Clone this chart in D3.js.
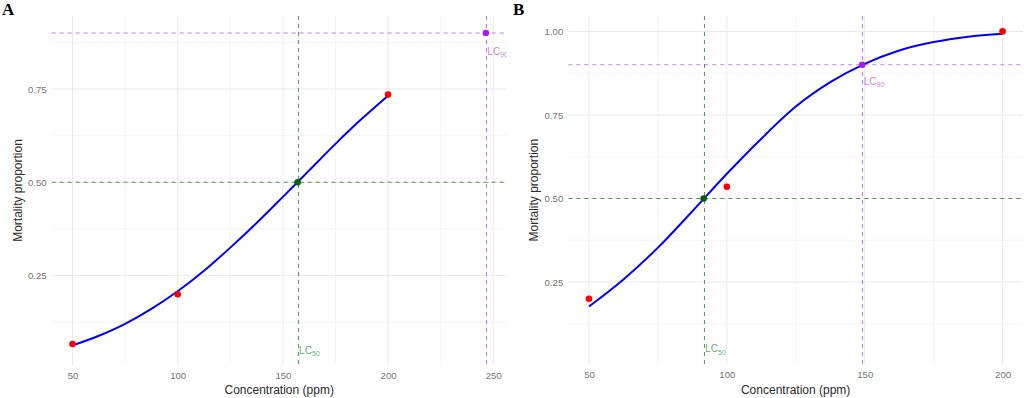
<!DOCTYPE html>
<html>
<head>
<meta charset="utf-8">
<script src="https://cdn.jsdelivr.net/npm/d3@7"></script>
<style>
  body { margin: 0; background: #fff; }
  svg { display: block; font-family: "Liberation Sans", Arial, sans-serif; }
</style>
</head>
<body>
<svg id="chart" width="1024" height="398"></svg>
<script>
// observed mortality (red points)
var obsA_conc = [50, 100, 200]
  , obsA_mort = [0.067, 0.20, 0.735]
  , obsB_conc = [50, 100, 200]
  , obsB_mort = [0.20, 0.535, 1.00];

// fitted curve
var fitA_conc = [50, 62.5, 75, 87.5, 100, 112.5, 125, 137.5, 150, 162.5, 175, 187.5, 200]
  , fitA_mort = [0.063, 0.089, 0.121, 0.161, 0.208, 0.263, 0.325, 0.391, 0.461, 0.532, 0.603, 0.670, 0.732]
  , fitB_conc = [50, 62.5, 75, 87.5, 100, 112.5, 125, 137.5, 150, 162.5, 175, 187.5, 200]
  , fitB_mort = [0.177, 0.258, 0.353, 0.462, 0.574, 0.679, 0.775, 0.848, 0.903, 0.943, 0.968, 0.984, 0.993];

// lethal concentrations
var lcA = [157.0, 246.5]
  , lcB = [91.6, 149.1]
  , lcLevels = [0.5, 0.9]
  , lcLabelY = [0.05, 0.85];

var xTicksA = [50, 100, 150, 200, 250]
  , xMinorA = [75, 125, 175, 225]
  , yTicksA = [0.25, 0.50, 0.75]
  , xTicksB = [50, 100, 150, 200]
  , xMinorB = [75, 125, 175]
  , yTicksB = [0.25, 0.50, 0.75, 1.00]
  , yMinor  = [0.125, 0.375, 0.625, 0.875];

var svg = d3.select('#chart');

function drawPanel (opt) {

  var x = d3.scaleLinear().domain(opt.xDomain).range([opt.left, opt.right])
    , y = d3.scaleLinear().domain(opt.yDomain).range([opt.bottom, opt.top])
    , g = svg.append('g')
    , green = '#006400'
    , purple = '#a020f0'
    , crisp = function (v) { return Math.round(v) + 0.5; };

  var clipId = 'clip-' + opt.tag;
  svg.append('clipPath').attr('id', clipId)
    .append('rect')
    .attr('x', opt.left).attr('y', opt.top)
    .attr('width', opt.right - opt.left).attr('height', opt.bottom - opt.top);

  // grid
  g.selectAll('.xminor').data(opt.xMinor).enter().append('line')
    .attr('x1', x).attr('x2', x).attr('y1', opt.top).attr('y2', opt.bottom)
    .attr('stroke', '#f1f1f1').attr('stroke-width', 0.7);
  g.selectAll('.yminor').data(yMinor.filter(function (v) { return v > opt.yDomain[0] && v < opt.yDomain[1]; }))
    .enter().append('line')
    .attr('x1', opt.left).attr('x2', opt.right).attr('y1', y).attr('y2', y)
    .attr('stroke', '#f1f1f1').attr('stroke-width', 0.7);
  g.selectAll('.xmajor').data(opt.xTicks).enter().append('line')
    .attr('x1', x).attr('x2', x).attr('y1', opt.top).attr('y2', opt.bottom)
    .attr('stroke', '#e9e9e9').attr('stroke-width', 1);
  g.selectAll('.ymajor').data(opt.yTicks).enter().append('line')
    .attr('x1', opt.left).attr('x2', opt.right).attr('y1', y).attr('y2', y)
    .attr('stroke', '#e9e9e9').attr('stroke-width', 1);

  // axes (text only, ggplot minimal style)
  var xAxis = g.append('g')
    .attr('transform', 'translate(0,' + (opt.bottom + 3) + ')')
    .call(d3.axisBottom(x).tickValues(opt.xTicks).tickSize(0).tickPadding(4));
  var yAxis = g.append('g')
    .attr('transform', 'translate(' + (opt.left - 5) + ',0)')
    .call(d3.axisLeft(y).tickValues(opt.yTicks).tickFormat(d3.format('.2f')).tickSize(0).tickPadding(0));
  [xAxis, yAxis].forEach(function (a) {
    a.select('.domain').remove();
    a.selectAll('text').attr('fill', '#737373').style('font-size', '9.6px')
      .style('font-family', '"Liberation Sans", Arial, sans-serif');
  });

  g.append('text')
    .attr('x', (opt.left + opt.right) / 2).attr('y', 394)
    .attr('text-anchor', 'middle').attr('fill', '#2b2b2b').style('font-size', '12px')
    .text('Concentration (ppm)');
  g.append('text')
    .attr('transform', 'translate(' + opt.yTitleX + ',' + ((opt.top + opt.bottom) / 2) + ') rotate(-90)')
    .attr('text-anchor', 'middle').attr('fill', '#2b2b2b').style('font-size', '12px')
    .text('Mortality proportion');

  g.append('text')
    .attr('x', opt.labelX).attr('y', 15)
    .style('font-family', '"Liberation Serif", "Times New Roman", serif')
    .style('font-weight', 'bold').style('font-size', '17px').attr('fill', '#000')
    .text(opt.tag);

  var plot = g.append('g').attr('clip-path', 'url(#' + clipId + ')');

  // reference lines
  var colors = [green, purple]
    , alphas = [0.65, 0.6];
  opt.lc.forEach(function (c, i) {
    plot.append('line')
      .attr('x1', opt.left).attr('x2', opt.right)
      .attr('y1', y(lcLevels[i])).attr('y2', y(lcLevels[i]))
      .attr('stroke', colors[i]).attr('stroke-opacity', alphas[i])
      .attr('stroke-width', 1.1).attr('stroke-dasharray', '4,4');
    plot.append('line')
      .attr('x1', crisp(x(c))).attr('x2', crisp(x(c)))
      .attr('y1', opt.top).attr('y2', opt.bottom)
      .attr('stroke', colors[i]).attr('stroke-opacity', alphas[i])
      .attr('stroke-width', 1.1).attr('stroke-dasharray', '4,4');
  });

  // fitted curve
  var fit = d3.zip(opt.fitConc, opt.fitMort);
  plot.append('path')
    .datum(fit)
    .attr('fill', 'none').attr('stroke', '#0000ff').attr('stroke-width', 2)
    .attr('d', d3.line().x(function (d) { return x(d[0]); }).y(function (d) { return y(d[1]); })
      .curve(d3.curveMonotoneX));

  // observed points
  plot.selectAll('.obs').data(d3.zip(opt.obsConc, opt.obsMort)).enter().append('circle')
    .attr('cx', function (d) { return x(d[0]); })
    .attr('cy', function (d) { return y(d[1]); })
    .attr('r', 3.3).attr('fill', '#ff0000');

  // LC points and labels
  opt.lc.forEach(function (c, i) {
    plot.append('circle')
      .attr('cx', x(c)).attr('cy', y(lcLevels[i])).attr('r', 3.3)
      .attr('fill', colors[i]);
    var t = plot.append('text')
      .attr('x', x(c) + 1.5).attr('y', y(lcLabelY[i]))
      .attr('dy', '0.35em')
      .attr('fill', colors[i]).attr('fill-opacity', 0.6)
      .style('font-size', '10px');
    t.append('tspan').text('LC');
    t.append('tspan').attr('dy', '0.3em').style('font-size', '7px').text(lcLevels[i] * 100);
  });
}

drawPanel({
  tag: 'A', labelX: 2, yTitleX: 22,
  left: 51.7, right: 506.7, top: 16, bottom: 365,
  xDomain: [40.1, 256.4], yDomain: [0.0106, 0.9455],
  xTicks: xTicksA, xMinor: xMinorA, yTicks: yTicksA,
  obsConc: obsA_conc, obsMort: obsA_mort,
  fitConc: fitA_conc, fitMort: fitA_mort,
  lc: lcA
});

drawPanel({
  tag: 'B', labelX: 513, yTitleX: 538,
  left: 568.3, right: 1023, top: 16, bottom: 364.3,
  xDomain: [42.5, 207.4], yDomain: [0.004, 1.046],
  xTicks: xTicksB, xMinor: xMinorB, yTicks: yTicksB,
  obsConc: obsB_conc, obsMort: obsB_mort,
  fitConc: fitB_conc, fitMort: fitB_mort,
  lc: lcB
});
</script>
</body>
</html>
